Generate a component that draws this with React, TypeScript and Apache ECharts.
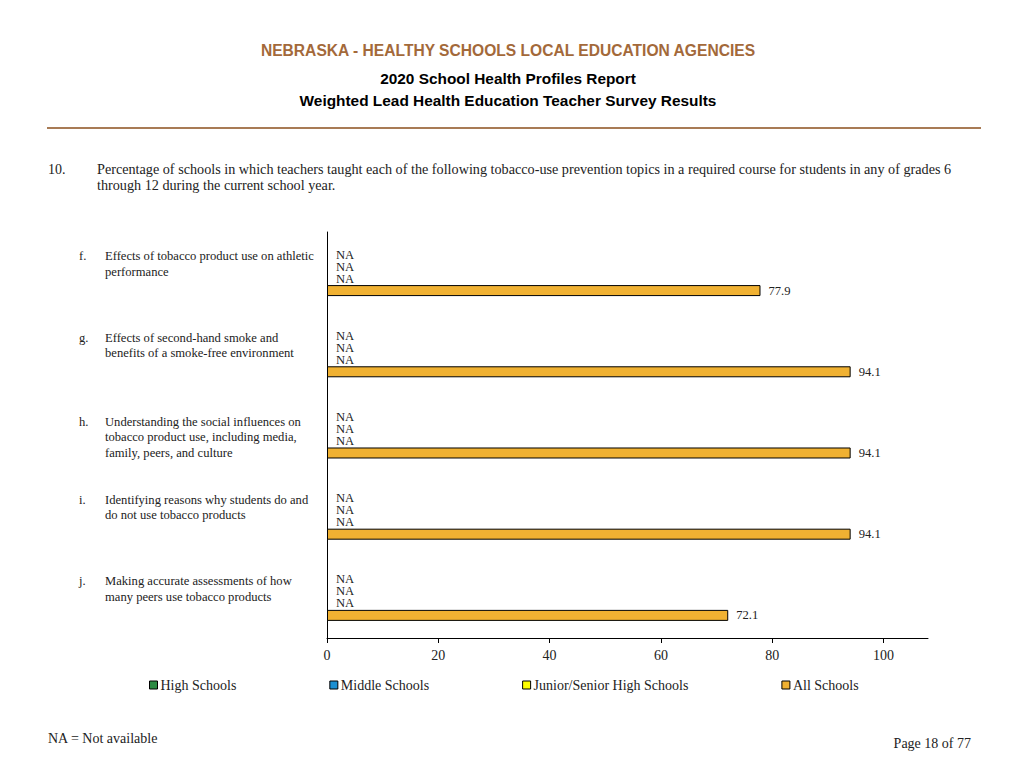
import * as echarts from 'echarts';
import { useEffect, useRef } from 'react';

// topic letters (category values) and their wrapped label lines
const topicLetters = ['f.', 'g.', 'h.', 'i.', 'j.'];
const topicLines = [
  ['Effects of tobacco product use on athletic', 'performance'],
  ['Effects of second-hand smoke and', 'benefits of a smoke-free environment'],
  ['Understanding the social influences on', 'tobacco product use, including media,', 'family, peers, and culture'],
  ['Identifying reasons why students do and', 'do not use tobacco products'],
  ['Making accurate assessments of how', 'many peers use tobacco products'],
];

const seriesNames = ['High Schools', 'Middle Schools', 'Junior/Senior High Schools', 'All Schools'];
const seriesColors = ['#2b8a43', '#1b8fd2', '#ffff00', '#f0b132'];

// null = NA (not available)
const highSchools: (number | null)[] = [null, null, null, null, null];
const middleSchools: (number | null)[] = [null, null, null, null, null];
const juniorSeniorHighSchools: (number | null)[] = [null, null, null, null, null];
const allSchools: (number | null)[] = [77.9, 94.1, 94.1, 94.1, 72.1];

const xTicks = [0, 20, 40, 60, 80, 100];

const serif = '"Liberation Serif", "Times New Roman", serif';
const sans = '"Liberation Sans", Arial, sans-serif';

export default function App() {
  const chartRef = useRef<HTMLDivElement>(null);

  useEffect(() => {
    if (!chartRef.current) return;
    const chart = echarts.init(chartRef.current, undefined, { renderer: 'svg' });

    const allData = [highSchools, middleSchools, juniorSeniorHighSchools, allSchools];

    const series = allData.map((values, si) => ({
      name: seriesNames[si],
      type: 'bar' as const,
      barWidth: 11,
      barGap: '9%',
      itemStyle: { color: seriesColors[si], borderColor: '#000', borderWidth: 1 },
      label: {
        show: true,
        position: 'right' as const,
        distance: 8,
        fontFamily: serif,
        fontSize: 12.6,
        color: '#222',
        formatter: (p: { dataIndex: number }) => {
          const v = values[p.dataIndex];
          return v == null ? 'NA' : v.toFixed(1);
        },
      },
      data: values.map((v) =>
        v == null ? { value: 0, itemStyle: { borderWidth: 0 }, label: { distance: 9 } } : v,
      ),
    }));

    chart.setOption({
      animation: false,
      backgroundColor: '#fff',
      textStyle: { fontFamily: serif },
      grid: { left: 327, top: 232, width: 601, height: 406, containLabel: false },
      legend: {
        left: 144,
        top: 673,
        itemWidth: 8,
        itemHeight: 8,
        itemGap: 93,
        icon: 'rect',
        itemStyle: { borderColor: '#000', borderWidth: 1 },
        textStyle: { fontFamily: serif, fontSize: 14, color: '#222', padding: [0, 0, 0, -2] },
        data: seriesNames,
        selectedMode: false,
      },
      xAxis: {
        type: 'value',
        min: 0,
        max: 108,
        interval: 20,
        splitLine: { show: false },
        axisLine: { show: true, lineStyle: { color: '#000', width: 1 } },
        axisTick: { show: true, length: 5, customValues: xTicks, lineStyle: { color: '#000' } },
        axisLabel: {
          customValues: xTicks,
          margin: 10,
          fontFamily: serif,
          fontSize: 14,
          color: '#222',
        },
      },
      yAxis: {
        type: 'category',
        inverse: true,
        data: topicLetters,
        axisLine: { show: true, lineStyle: { color: '#000', width: 1 } },
        axisTick: { show: false },
        splitLine: { show: false },
        axisLabel: {
          align: 'left',
          margin: 248,
          verticalAlign: 'middle',
          formatter: (value: string, idx: number) => {
            const lines = topicLines[idx];
            const rows = lines.map((ln, i) => `{l|${i === 0 ? value : ' '}}{t|${ln}}`);
            if (lines.length < 3) rows.push('{s| }');
            else rows.unshift('{g| }');
            return rows.join('\n');
          },
          rich: {
            l: { width: 26, fontFamily: serif, fontSize: 12.6, lineHeight: 15.5, color: '#222' },
            t: { fontFamily: serif, fontSize: 12.6, lineHeight: 15.5, color: '#222' },
            s: { fontSize: 12, lineHeight: 17 },
            g: { fontSize: 4, lineHeight: 4 },
          },
        },
      },
      series,
      graphic: [
        {
          type: 'text',
          x: 508,
          y: 50,
          style: {
            text: 'NEBRASKA - HEALTHY SCHOOLS LOCAL EDUCATION AGENCIES',
            align: 'center',
            verticalAlign: 'middle',
            fontFamily: sans,
            fontWeight: 'bold',
            fontSize: 15.6,
            fill: '#a3693a',
          },
        },
        {
          type: 'text',
          x: 508,
          y: 78,
          style: {
            text: '2020 School Health Profiles Report',
            align: 'center',
            verticalAlign: 'middle',
            fontFamily: sans,
            fontWeight: 'bold',
            fontSize: 15.4,
            fill: '#000',
          },
        },
        {
          type: 'text',
          x: 508,
          y: 100,
          style: {
            text: 'Weighted Lead Health Education Teacher Survey Results',
            align: 'center',
            verticalAlign: 'middle',
            fontFamily: sans,
            fontWeight: 'bold',
            fontSize: 15.4,
            fill: '#000',
          },
        },
        {
          type: 'line',
          shape: { x1: 47, y1: 128, x2: 981, y2: 128 },
          style: { stroke: '#a87b55', lineWidth: 2 },
        },
        {
          type: 'text',
          x: 48,
          y: 169,
          style: { text: '10.', verticalAlign: 'middle', fontFamily: serif, fontSize: 14, fill: '#222' },
        },
        {
          type: 'text',
          x: 97,
          y: 169,
          style: {
            text: 'Percentage of schools in which teachers taught each of the following tobacco-use prevention topics in a required course for students in any of grades 6',
            verticalAlign: 'middle',
            fontFamily: serif,
            fontSize: 14.2,
            fill: '#222',
          },
        },
        {
          type: 'text',
          x: 97,
          y: 185,
          style: {
            text: 'through 12 during the current school year.',
            verticalAlign: 'middle',
            fontFamily: serif,
            fontSize: 14.2,
            fill: '#222',
          },
        },
        {
          type: 'text',
          x: 48,
          y: 738,
          style: { text: 'NA = Not available', verticalAlign: 'middle', fontFamily: serif, fontSize: 14, fill: '#222' },
        },
        {
          type: 'text',
          x: 971,
          y: 743,
          style: {
            text: 'Page 18 of 77',
            align: 'right',
            verticalAlign: 'middle',
            fontFamily: serif,
            fontSize: 14,
            fill: '#222',
          },
        },
      ],
    });

    return () => {
      chart.dispose();
    };
  }, []);

  return (
    <div
      ref={chartRef}
      style={{ position: 'fixed', left: 0, top: 0, width: '1024px', height: '768px', background: '#fff' }}
    />
  );
}
